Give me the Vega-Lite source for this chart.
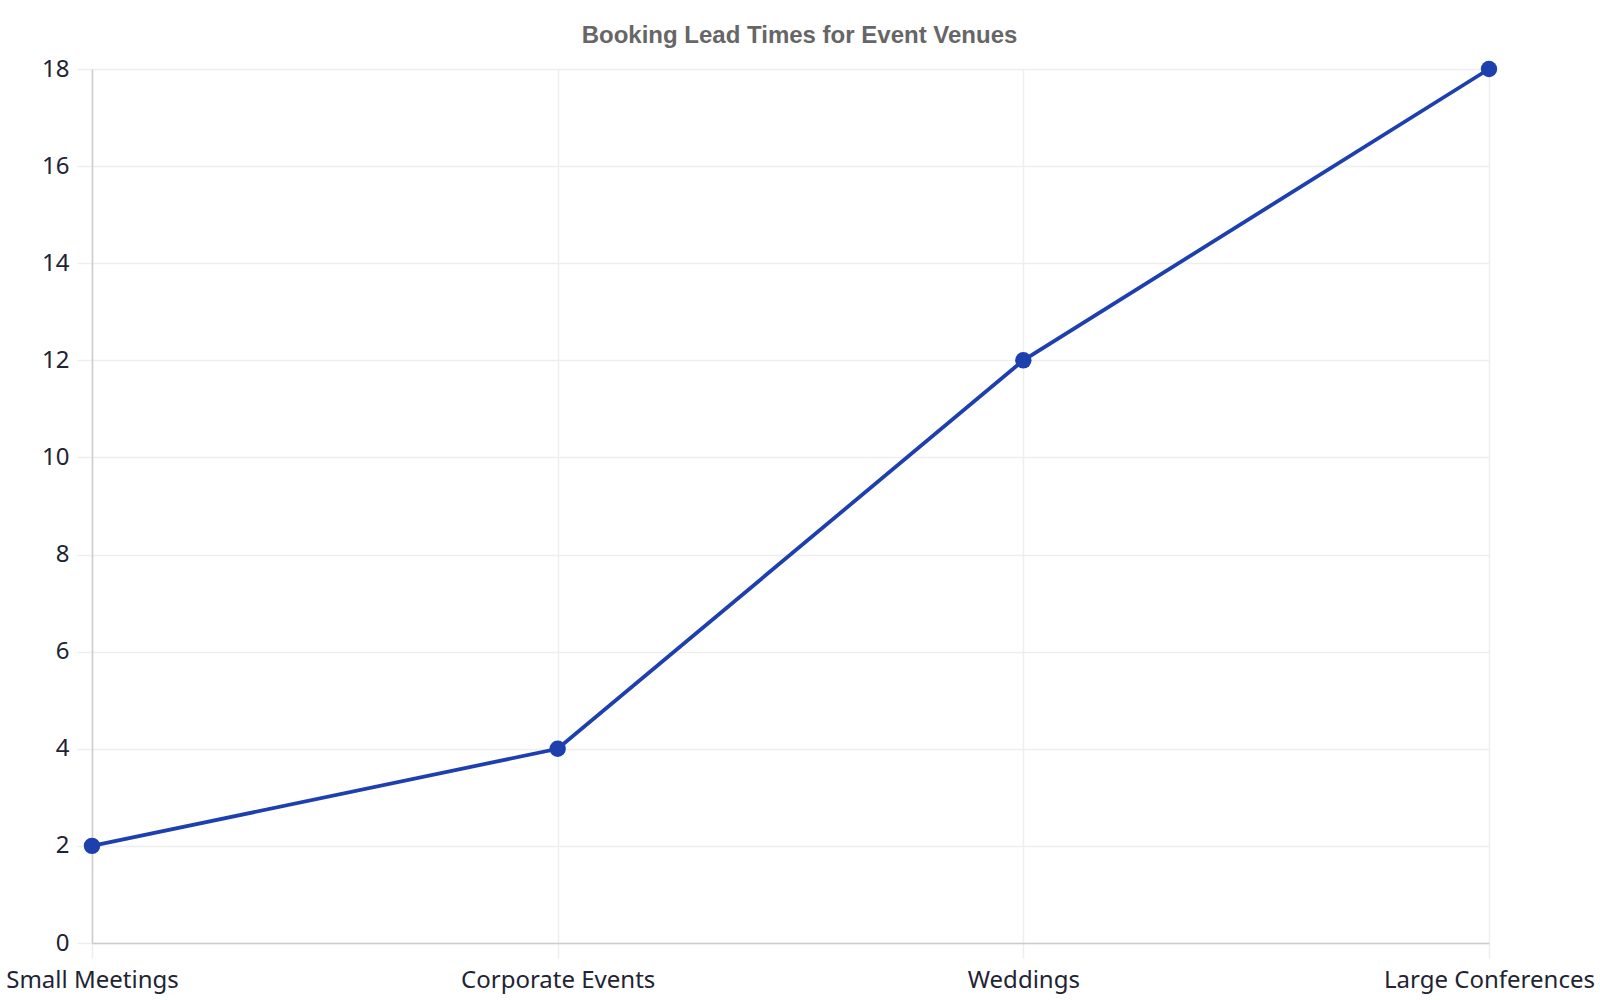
{
  "$schema": "https://vega.github.io/schema/vega-lite/v6.json",
  "width": 1397,
  "height": 874,
  "autosize": {"type": "none"},
  "padding": {"left": 92, "top": 69, "right": 111, "bottom": 57},
  "background": "white",
  "title": {
    "text": "Booking Lead Times for Event Venues",
    "font": "Liberation Sans",
    "fontSize": 24,
    "fontWeight": "bold",
    "color": "#666666",
    "anchor": "middle",
    "dx": 9,
    "offset": 9
  },
  "config": {
    "view": {"stroke": null},
    "axis": {
      "labelFont": "Noto Sans",
      "labelFontSize": 24,
      "labelColor": "#1e2433",
      "labelLimit": 400,
      "gridColor": "#eeeeee",
      "gridWidth": 1.5,
      "tickColor": "#eeeeee",
      "tickWidth": 1.5,
      "tickSize": 15,
      "domainColor": "#cccccc",
      "domainWidth": 1.5,
      "title": null
    }
  },
  "data": {
    "values": [
      {"event": "Small Meetings", "weeks": 2},
      {"event": "Corporate Events", "weeks": 4},
      {"event": "Weddings", "weeks": 12},
      {"event": "Large Conferences", "weeks": 18}
    ]
  },
  "encoding": {
    "x": {
      "field": "event",
      "type": "ordinal",
      "sort": null,
      "scale": {"type": "point", "padding": 0},
      "axis": {"labelAngle": 0, "labelPadding": 10, "grid": true, "labelOverlap": false}
    },
    "y": {
      "field": "weeks",
      "type": "quantitative",
      "scale": {"domain": [0, 18], "nice": false},
      "axis": {"values": [0, 2, 4, 6, 8, 10, 12, 14, 16, 18], "labelPadding": 8, "grid": true}
    }
  },
  "layer": [
    {"mark": {"type": "line", "color": "#1e40af", "strokeWidth": 3.8}},
    {"mark": {"type": "circle", "color": "#1e40af", "size": 270, "opacity": 1}}
  ]
}
